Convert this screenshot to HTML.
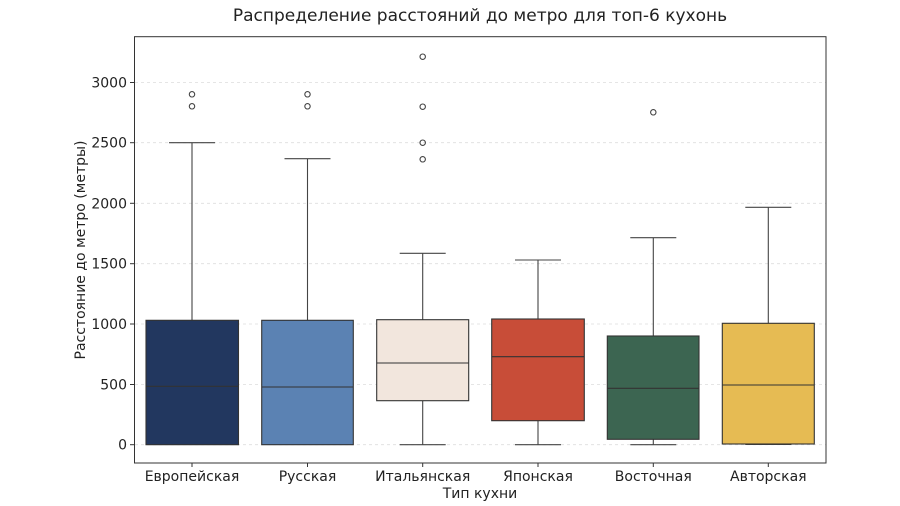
<!DOCTYPE html>
<html><head><meta charset="utf-8"><style>body{margin:0;background:#fff}svg{display:block}text{font-family:"DejaVu Sans","Liberation Sans",sans-serif;fill:#222}</style></head><body>
<svg width="900" height="506" viewBox="0 0 900 506" xmlns="http://www.w3.org/2000/svg">
<text x="480" y="21" font-size="17" text-anchor="middle">Распределение расстояний до метро для топ-6 кухонь</text>
<g stroke="#ddd" stroke-width="0.8" stroke-dasharray="3,3">
<line x1="135" x2="826" y1="82.5" y2="82.5"/><line x1="135" x2="826" y1="142.7" y2="142.7"/><line x1="135" x2="826" y1="203.3" y2="203.3"/><line x1="135" x2="826" y1="263.7" y2="263.7"/><line x1="135" x2="826" y1="324" y2="324"/><line x1="135" x2="826" y1="384.5" y2="384.5"/><line x1="135" x2="826" y1="444.7" y2="444.7"/>
</g>
<g font-size="14" text-anchor="end">
<text x="127" y="87.5">3000</text><text x="127" y="147.7">2500</text><text x="127" y="208.3">2000</text><text x="127" y="268.7">1500</text><text x="127" y="329">1000</text><text x="127" y="389.5">500</text><text x="127" y="449.7">0</text>
</g>
<g stroke="#333" stroke-width="1">
<line x1="130" x2="134.5" y1="82.5" y2="82.5"/><line x1="130" x2="134.5" y1="142.7" y2="142.7"/><line x1="130" x2="134.5" y1="203.3" y2="203.3"/><line x1="130" x2="134.5" y1="263.7" y2="263.7"/><line x1="130" x2="134.5" y1="324" y2="324"/><line x1="130" x2="134.5" y1="384.5" y2="384.5"/><line x1="130" x2="134.5" y1="444.7" y2="444.7"/>
<line x1="192" x2="192" y1="463" y2="467"/><line x1="307.5" x2="307.5" y1="463" y2="467"/><line x1="422.7" x2="422.7" y1="463" y2="467"/><line x1="538" x2="538" y1="463" y2="467"/><line x1="653.3" x2="653.3" y1="463" y2="467"/><line x1="768.3" x2="768.3" y1="463" y2="467"/>
</g>
<g font-size="14" text-anchor="middle">
<text x="192" y="481">Европейская</text><text x="307.5" y="481">Русская</text><text x="422.7" y="481">Итальянская</text><text x="538" y="481">Японская</text><text x="653.3" y="481">Восточная</text><text x="768.3" y="481">Авторская</text>
<text x="480" y="498">Тип кухни</text>
<text transform="translate(85,250) rotate(-90)">Расстояние до метро (метры)</text>
</g>
<g stroke="#444" stroke-width="1.1" fill="none">
<line x1="192" x2="192" y1="142.7" y2="320.3"/><line x1="169" x2="215" y1="142.7" y2="142.7"/>
<line x1="307.5" x2="307.5" y1="158.7" y2="320.3"/><line x1="284.5" x2="330.5" y1="158.7" y2="158.7"/>
<line x1="422.7" x2="422.7" y1="253.3" y2="319.7"/><line x1="399.7" x2="445.7" y1="253.3" y2="253.3"/>
<line x1="422.7" x2="422.7" y1="400.7" y2="444.7"/><line x1="399.7" x2="445.7" y1="444.7" y2="444.7"/>
<line x1="538" x2="538" y1="260" y2="319"/><line x1="515" x2="561" y1="260" y2="260"/>
<line x1="538" x2="538" y1="420.7" y2="444.7"/><line x1="515" x2="561" y1="444.7" y2="444.7"/>
<line x1="653.3" x2="653.3" y1="237.7" y2="336"/><line x1="630.3" x2="676.3" y1="237.7" y2="237.7"/>
<line x1="653.3" x2="653.3" y1="439.3" y2="444.7"/><line x1="630.3" x2="676.3" y1="444.7" y2="444.7"/>
<line x1="768.3" x2="768.3" y1="207.3" y2="323.3"/><line x1="745.3" x2="791.3" y1="207.3" y2="207.3"/>
<line x1="745.3" x2="791.3" y1="444.5" y2="444.5"/>
<circle cx="192" cy="94.3" r="2.7"/><circle cx="192" cy="106.3" r="2.7"/>
<circle cx="307.5" cy="94.3" r="2.7"/><circle cx="307.5" cy="106.3" r="2.7"/>
<circle cx="422.7" cy="56.7" r="2.7"/><circle cx="422.7" cy="106.7" r="2.7"/><circle cx="422.7" cy="142.7" r="2.7"/><circle cx="422.7" cy="159.3" r="2.7"/>
<circle cx="653.3" cy="112.3" r="2.7"/>
</g>
<g stroke="#333" stroke-width="1.1">
<rect x="146" y="320.3" width="92.5" height="124.4" fill="#22375f"/><line x1="146" x2="238.5" y1="386.3" y2="386.3"/>
<rect x="261.7" y="320.3" width="91.6" height="124.4" fill="#5b82b3"/><line x1="261.7" x2="353.3" y1="387" y2="387"/>
<rect x="376.7" y="319.7" width="92" height="81" fill="#f2e6dd"/><line x1="376.7" x2="468.7" y1="363" y2="363"/>
<rect x="491.7" y="319" width="92.6" height="101.7" fill="#c84d38"/><line x1="491.7" x2="584.3" y1="356.7" y2="356.7"/>
<rect x="607.3" y="336" width="91.7" height="103.3" fill="#3c6551"/><line x1="607.3" x2="699" y1="388.3" y2="388.3"/>
<rect x="722.3" y="323.3" width="92" height="120.7" fill="#e6bb53"/><line x1="722.3" x2="814.3" y1="385" y2="385"/>
</g>
<rect x="134.5" y="36.7" width="691.5" height="426.3" fill="none" stroke="#333" stroke-width="1"/>
</svg>
</body></html>
